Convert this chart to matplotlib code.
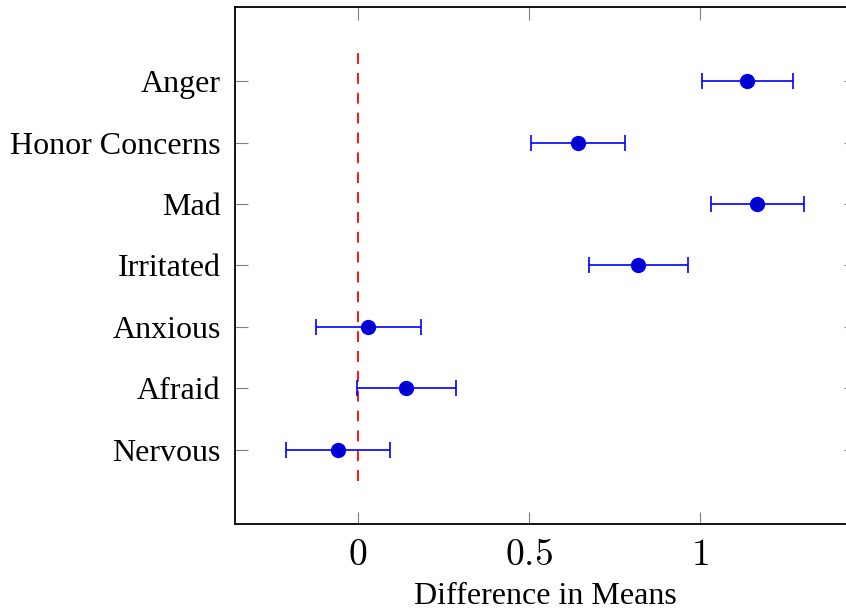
import matplotlib.pyplot as plt
import numpy as np

plt.rcParams['font.family'] = ['Liberation Serif', 'DejaVu Serif']
plt.rcParams['mathtext.fontset'] = 'cm'

# emotions, top to bottom as drawn
labels = ["Anger", "Honor Concerns", "Mad", "Irritated", "Anxious", "Afraid", "Nervous"]
means = [1.137, 0.643, 1.167, 0.820, 0.030, 0.141, -0.058]
lower = [1.005, 0.507, 1.033, 0.676, -0.122, -0.003, -0.208]
upper = [1.271, 0.781, 1.304, 0.965, 0.185, 0.287, 0.094]

ypos = np.arange(len(labels), 0, -1)
means = np.array(means)
err = [means - np.array(lower), np.array(upper) - means]

fig = plt.figure(figsize=(8.46, 6.13), dpi=100)
ax = fig.add_axes([0.2774, 0.1457, 0.7344, 0.8424])

# reference line at zero
ax.plot([0, 0], [0.5, 7.5], color="red", lw=1.3, linestyle=(0, (6, 5)), zorder=1)

ax.errorbar(means, ypos, xerr=err, fmt="o", color="blue", ecolor="blue",
            markerfacecolor=(0, 0, 0.8), markeredgecolor="blue", markersize=10,
            elinewidth=1.2, capsize=6, capthick=1.2, zorder=3)

ax.set_xlim(-0.359, 1.455)
ax.set_ylim(-0.2, 8.2)
ax.set_yticks(ypos)
ax.set_yticklabels(labels, fontsize=23)
ax.set_xticks([0, 0.5, 1])
ax.set_xticklabels([r"$0$", r"$0.5$", r"$1$"], fontsize=27)
ax.set_xlabel("Difference in Means", fontsize=23, labelpad=6)

ax.tick_params(axis="both", direction="in", length=9, width=0.8, color="gray",
               top=True, right=True)
ax.tick_params(axis="x", pad=11)
ax.tick_params(axis="y", pad=10)
for s in ax.spines.values():
    s.set_linewidth(1.3)

fig.savefig("out.png", dpi=100)
